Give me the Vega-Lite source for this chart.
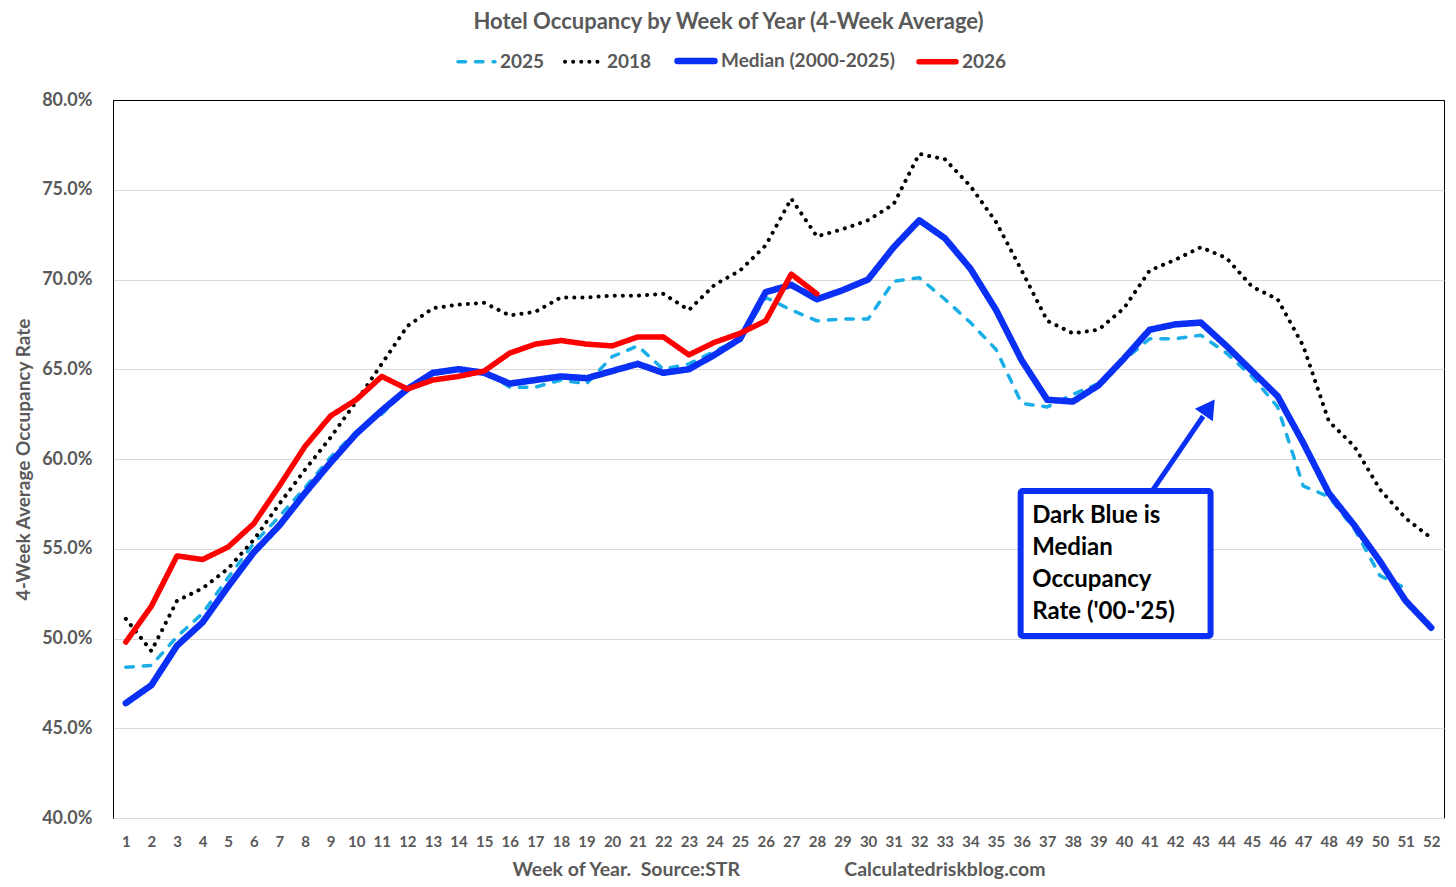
{
  "$schema": "https://vega.github.io/schema/vega-lite/v6.json",
  "width": 1331,
  "height": 718,
  "autosize": "none",
  "padding": {"left": 113, "top": 100, "right": 12, "bottom": 69},
  "background": "white",
  "title": {
    "text": "Hotel Occupancy by Week of Year (4-Week Average)",
    "anchor": "middle",
    "offset": 5,
    "dx": -50,
    "fontSize": 22,
    "font": "Lato",
    "fontWeight": "bold",
    "color": "#595959"
  },
  "config": {
    "font": "Lato",
    "view": {"stroke": "#000000", "strokeWidth": 1},
    "axis": {
      "labelFont": "Lato",
      "labelFontWeight": "bold",
      "labelColor": "#595959",
      "labelFlush": false,
      "labelOverlap": false,
      "titleFont": "Lato",
      "titleFontWeight": "bold",
      "titleColor": "#595959",
      "ticks": false
    },
    "axisX": {
      "grid": false,
      "tickCount": 60,
      "domainColor": "#d9d9d9",
      "labelFontSize": 15,
      "labelPadding": 16,
      "titleFontSize": 19.5,
      "titlePadding": 11
    },
    "axisY": {
      "gridColor": {"condition": {"test": "datum.value == 80", "value": "#000000"}, "value": "#d9d9d9"},
      "domainColor": "#000000",
      "labelFontSize": 18,
      "labelPadding": 21,
      "titleFontSize": 19,
      "titlePadding": 8
    }
  },
  "data": {
    "values": [
      {"week": 1, "y2025": 48.4, "y2018": 51.1, "median": 46.4, "y2026": 49.8},
      {"week": 2, "y2025": 48.5, "y2018": 49.3, "median": 47.4, "y2026": 51.8},
      {"week": 3, "y2025": 50.1, "y2018": 52.1, "median": 49.6, "y2026": 54.6},
      {"week": 4, "y2025": 51.4, "y2018": 52.8, "median": 50.9, "y2026": 54.4},
      {"week": 5, "y2025": 53.4, "y2018": 53.9, "median": 52.9, "y2026": 55.1},
      {"week": 6, "y2025": 55.3, "y2018": 55.5, "median": 54.8, "y2026": 56.4},
      {"week": 7, "y2025": 56.8, "y2018": 57.5, "median": 56.3, "y2026": 58.5},
      {"week": 8, "y2025": 58.4, "y2018": 59.4, "median": 58.1, "y2026": 60.7},
      {"week": 9, "y2025": 60.1, "y2018": 61.2, "median": 59.8, "y2026": 62.4},
      {"week": 10, "y2025": 61.5, "y2018": 63.2, "median": 61.4, "y2026": 63.3},
      {"week": 11, "y2025": 62.5, "y2018": 65.3, "median": 62.7, "y2026": 64.6},
      {"week": 12, "y2025": 63.9, "y2018": 67.4, "median": 63.9, "y2026": 63.9},
      {"week": 13, "y2025": 64.7, "y2018": 68.4, "median": 64.8, "y2026": 64.4},
      {"week": 14, "y2025": 65.0, "y2018": 68.6, "median": 65.0, "y2026": 64.6},
      {"week": 15, "y2025": 64.9, "y2018": 68.7, "median": 64.8, "y2026": 64.9},
      {"week": 16, "y2025": 64.0, "y2018": 68.0, "median": 64.2, "y2026": 65.9},
      {"week": 17, "y2025": 64.0, "y2018": 68.2, "median": 64.4, "y2026": 66.4},
      {"week": 18, "y2025": 64.4, "y2018": 69.0, "median": 64.6, "y2026": 66.6},
      {"week": 19, "y2025": 64.2, "y2018": 69.0, "median": 64.5, "y2026": 66.4},
      {"week": 20, "y2025": 65.7, "y2018": 69.1, "median": 64.9, "y2026": 66.3},
      {"week": 21, "y2025": 66.3, "y2018": 69.1, "median": 65.3, "y2026": 66.8},
      {"week": 22, "y2025": 65.0, "y2018": 69.2, "median": 64.8, "y2026": 66.8},
      {"week": 23, "y2025": 65.3, "y2018": 68.3, "median": 65.0, "y2026": 65.8},
      {"week": 24, "y2025": 66.0, "y2018": 69.7, "median": 65.8, "y2026": 66.5},
      {"week": 25, "y2025": 66.7, "y2018": 70.5, "median": 66.7, "y2026": 67.0},
      {"week": 26, "y2025": 69.0, "y2018": 71.9, "median": 69.3, "y2026": 67.7},
      {"week": 27, "y2025": 68.3, "y2018": 74.5, "median": 69.7, "y2026": 70.3},
      {"week": 28, "y2025": 67.7, "y2018": 72.4, "median": 68.9, "y2026": 69.2},
      {"week": 29, "y2025": 67.8, "y2018": 72.8, "median": 69.4},
      {"week": 30, "y2025": 67.8, "y2018": 73.3, "median": 70.0},
      {"week": 31, "y2025": 69.9, "y2018": 74.2, "median": 71.8},
      {"week": 32, "y2025": 70.1, "y2018": 77.0, "median": 73.3},
      {"week": 33, "y2025": 68.9, "y2018": 76.7, "median": 72.3},
      {"week": 34, "y2025": 67.6, "y2018": 75.2, "median": 70.6},
      {"week": 35, "y2025": 66.1, "y2018": 73.2, "median": 68.3},
      {"week": 36, "y2025": 63.1, "y2018": 70.5, "median": 65.5},
      {"week": 37, "y2025": 62.9, "y2018": 67.7, "median": 63.3},
      {"week": 38, "y2025": 63.6, "y2018": 67.0, "median": 63.2},
      {"week": 39, "y2025": 64.2, "y2018": 67.2, "median": 64.1},
      {"week": 40, "y2025": 65.5, "y2018": 68.4, "median": 65.6},
      {"week": 41, "y2025": 66.7, "y2018": 70.5, "median": 67.2},
      {"week": 42, "y2025": 66.7, "y2018": 71.1, "median": 67.5},
      {"week": 43, "y2025": 66.9, "y2018": 71.8, "median": 67.6},
      {"week": 44, "y2025": 65.9, "y2018": 71.2, "median": 66.3},
      {"week": 45, "y2025": 64.6, "y2018": 69.6, "median": 64.9},
      {"week": 46, "y2025": 62.9, "y2018": 68.9, "median": 63.5},
      {"week": 47, "y2025": 58.5, "y2018": 66.3, "median": 60.9},
      {"week": 48, "y2025": 57.9, "y2018": 62.1, "median": 58.1},
      {"week": 49, "y2025": 56.1, "y2018": 60.7, "median": 56.3},
      {"week": 50, "y2025": 53.5, "y2018": 58.3, "median": 54.3},
      {"week": 51, "y2025": 52.8, "y2018": 56.7, "median": 52.1},
      {"week": 52, "y2018": 55.6, "median": 50.6}
    ]
  },
  "layer": [
    {
      "transform": [
        {"fold": ["y2025", "y2018", "median", "y2026"], "as": ["series", "value"]},
        {"filter": "isValid(datum.value)"}
      ],
      "mark": {"type": "line", "strokeJoin": "round", "strokeCap": "round"},
      "encoding": {
        "x": {
          "field": "week",
          "type": "quantitative",
          "scale": {"domain": [0.5, 52.5], "nice": false, "zero": false},
          "axis": {
            "values": [1,2,3,4,5,6,7,8,9,10,11,12,13,14,15,16,17,18,19,20,21,22,23,24,25,26,27,28,29,30,31,32,33,34,35,36,37,38,39,40,41,42,43,44,45,46,47,48,49,50,51,52],
            "tickCount": 60,
            "labelOverlap": false,
            "title": "Week of Year.\u00a0\u00a0Source:STR\u00a0\u00a0\u00a0\u00a0\u00a0\u00a0\u00a0\u00a0\u00a0\u00a0\u00a0\u00a0\u00a0\u00a0\u00a0\u00a0\u00a0\u00a0\u00a0\u00a0\u00a0\u00a0Calculatedriskblog.com"
          }
        },
        "y": {
          "field": "value",
          "type": "quantitative",
          "scale": {"domain": [40, 80], "nice": false, "zero": false},
          "axis": {
            "values": [40, 45, 50, 55, 60, 65, 70, 75, 80],
            "labelExpr": "format(datum.value, '.1f') + '%'",
            "title": "4-Week Average Occupancy Rate"
          }
        },
        "color": {
          "field": "series",
          "type": "nominal",
          "scale": {
            "domain": ["y2025", "y2018", "median", "y2026"],
            "range": ["#1aaee8", "#000000", "#0a2ff5", "#ff0000"]
          },
          "legend": {
            "orient": "none", "legendX": 343, "legendY": -61, "direction": "horizontal",
            "title": null, "symbolType": "stroke", "symbolSize": 1369,
            "labelFont": "Lato", "labelFontSize": 19, "labelFontWeight": "bold", "labelColor": "#595959",
            "labelOffset": 3, "columnPadding": 12, "labelLimit": 300,
            "labelExpr": "datum.value == 'median' ? 'Median (2000-2025)' : replace(datum.value, 'y', '')",
            "encode": {"symbols": {"update": {"strokeCap": {"value": "round"}}}}
          }
        },
        "strokeDash": {
          "field": "series",
          "type": "nominal",
          "scale": {
            "domain": ["y2025", "y2018", "median", "y2026"],
            "range": [[7.5, 10], [0.1, 8], [1, 0], [1, 0]]
          },
          "legend": {
            "orient": "none", "legendX": 343, "legendY": -61, "direction": "horizontal",
            "title": null, "symbolType": "stroke", "symbolSize": 1369,
            "labelFont": "Lato", "labelFontSize": 19, "labelFontWeight": "bold", "labelColor": "#595959",
            "labelOffset": 3, "columnPadding": 12, "labelLimit": 300,
            "labelExpr": "datum.value == 'median' ? 'Median (2000-2025)' : replace(datum.value, 'y', '')",
            "encode": {"symbols": {"update": {"strokeCap": {"value": "round"}}}}
          }
        },
        "strokeWidth": {
          "field": "series",
          "type": "nominal",
          "scale": {
            "type": "ordinal",
            "domain": ["y2025", "y2018", "median", "y2026"],
            "range": [3.5, 4, 6.5, 5.5]
          },
          "legend": {
            "orient": "none", "legendX": 343, "legendY": -61, "direction": "horizontal",
            "title": null, "symbolType": "stroke", "symbolSize": 1369,
            "labelFont": "Lato", "labelFontSize": 19, "labelFontWeight": "bold", "labelColor": "#595959",
            "labelOffset": 3, "columnPadding": 12, "labelLimit": 300,
            "labelExpr": "datum.value == 'median' ? 'Median (2000-2025)' : replace(datum.value, 'y', '')",
            "encode": {"symbols": {"update": {"strokeCap": {"value": "round"}}}}
          }
        }
      }
    },
    {
      "data": {"values": [{}]},
      "mark": {"type": "rect", "fill": "white", "stroke": "#0a2ff5", "strokeWidth": 6, "cornerRadius": 2},
      "encoding": {
        "x": {"datum": 35.96, "type": "quantitative"},
        "x2": {"datum": 43.38},
        "y": {"datum": 58.22, "type": "quantitative"},
        "y2": {"datum": 50.14}
      }
    },
    {
      "data": {"values": [{}]},
      "mark": {"type": "text", "align": "left", "baseline": "alphabetic", "font": "Lato", "fontSize": 24, "fontWeight": "bold", "color": "#000000", "lineHeight": 32},
      "encoding": {
        "x": {"datum": 36.41, "type": "quantitative"},
        "y": {"datum": 56.43, "type": "quantitative"},
        "text": {"value": ["Dark Blue is", "Median", "Occupancy", "Rate ('00-'25)"]}
      }
    },
    {
      "data": {"values": [{}]},
      "mark": {"type": "rule", "color": "#0a2ff5", "strokeWidth": 5},
      "encoding": {
        "x": {"datum": 41.1, "type": "quantitative"},
        "y": {"datum": 58.22, "type": "quantitative"},
        "x2": {"datum": 43.09},
        "y2": {"datum": 62.38}
      }
    },
    {
      "data": {"values": [{}]},
      "mark": {"type": "point", "shape": "triangle-up", "filled": true, "size": 480, "angle": 35, "color": "#0a2ff5", "opacity": 1},
      "encoding": {
        "x": {"datum": 43.33, "type": "quantitative"},
        "y": {"datum": 62.88, "type": "quantitative"}
      }
    }
  ]
}
